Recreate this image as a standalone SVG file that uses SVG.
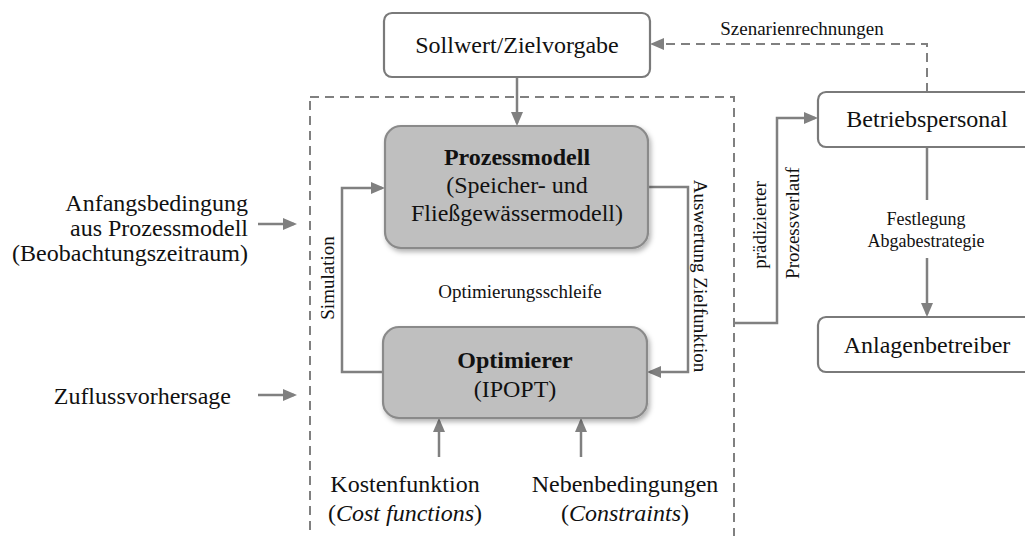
<svg xmlns="http://www.w3.org/2000/svg" width="1025" height="536" viewBox="0 0 1025 536" font-family="'Liberation Serif', 'Times New Roman', Tinos, 'DejaVu Serif', serif">
<defs>
<style>
text{font-family:"Liberation Serif","Times New Roman",Tinos,"DejaVu Serif",serif;fill:#111;}
.big{font-size:24px;text-anchor:middle;}
.mid{font-size:19px;text-anchor:middle;}
.sm{font-size:18px;text-anchor:middle;}
.b{font-weight:bold;}
.wbox{fill:#fff;stroke:#7a7a7a;stroke-width:2.2;}
.gbox{fill:#bfbfbf;stroke:#8a8a8a;stroke-width:2.2;}
.ln{fill:none;stroke:#808080;stroke-width:2.5;}
.dash{fill:none;stroke:#808080;stroke-width:2;stroke-dasharray:9 6;}
</style>
<marker id="ah" viewBox="0 0 14 12" refX="11" refY="6" markerWidth="14" markerHeight="12" markerUnits="userSpaceOnUse" orient="auto">
<path d="M0,0 L14,6 L0,12 z" fill="#808080"/>
</marker>
<filter id="sh" x="-10%" y="-10%" width="125%" height="130%">
<feDropShadow dx="2" dy="3" stdDeviation="2.5" flood-color="#000" flood-opacity="0.3"/>
</filter>
</defs>

<g id="optimization-loop">
<rect class="dash" x="310" y="97" width="424" height="460"/>
</g>

<g id="connectors">
<path class="ln" d="M517,77 L517,123" marker-end="url(#ah)"/>
<path class="dash" d="M927,92 L927,44 L653,44" marker-end="url(#ah)"/>
<path class="ln" d="M383,372 L342,372 L342,188 L382,188" marker-end="url(#ah)"/>
<path class="ln" d="M648,187 L688,187 L688,372 L650,372" marker-end="url(#ah)"/>
<path class="ln" d="M439,457 L439,421" marker-end="url(#ah)"/>
<path class="ln" d="M581,457 L581,421" marker-end="url(#ah)"/>
<path class="ln" d="M258,224 L294,224" marker-end="url(#ah)"/>
<path class="ln" d="M258,395 L294,395" marker-end="url(#ah)"/>
<path class="ln" d="M733,323 L777,323 L777,118 L815,118" marker-end="url(#ah)"/>
<path class="ln" d="M927,147 L927,200"/>
<path class="ln" d="M927,258 L927,314" marker-end="url(#ah)"/>
</g>

<g id="sollwert">
<rect class="wbox" x="384" y="13" width="266" height="64" rx="8"/>
<text class="big" x="517" y="53">Sollwert/Zielvorgabe</text>
</g>

<g id="prozessmodell">
<rect class="gbox" x="385" y="126" width="263" height="122" rx="16" filter="url(#sh)"/>
<text class="big b" x="517" y="165">Prozessmodell</text>
<text class="big" x="517" y="193">(Speicher- und</text>
<text class="big" x="517" y="221">Fließgewässermodell)</text>
</g>

<g id="optimierer">
<rect class="gbox" x="383" y="327" width="264" height="91" rx="16" filter="url(#sh)"/>
<text class="big b" x="515" y="368">Optimierer</text>
<text class="big" x="515" y="397">(IPOPT)</text>
</g>

<g id="betriebspersonal">
<rect class="wbox" x="818" y="92" width="218" height="55" rx="8"/>
<text class="big" x="927" y="127">Betriebspersonal</text>
</g>

<g id="anlagenbetreiber">
<rect class="wbox" x="818" y="317" width="218" height="55" rx="8"/>
<text class="big" x="927" y="353">Anlagenbetreiber</text>
</g>

<g id="anfangsbedingung">
<text class="big" style="text-anchor:end" x="248" y="211">Anfangsbedingung</text>
<text class="big" style="text-anchor:end" x="248" y="236">aus Prozessmodell</text>
<text class="big" style="text-anchor:end" x="248" y="261">(Beobachtungszeitraum)</text>
</g>

<g id="zuflussvorhersage">
<text class="big" style="text-anchor:end" x="231" y="404">Zuflussvorhersage</text>
</g>

<g id="kostenfunktion">
<text class="big" x="405" y="492">Kostenfunktion</text>
<text class="big" x="405" y="521">(<tspan font-style="italic">Cost functions</tspan>)</text>
</g>

<g id="nebenbedingungen">
<text class="big" x="625" y="492">Nebenbedingungen</text>
<text class="big" x="625" y="521">(<tspan font-style="italic">Constraints</tspan>)</text>
</g>

<g id="labels">
<text class="mid" x="802" y="35">Szenarienrechnungen</text>
<text class="mid" x="520" y="298">Optimierungsschleife</text>
<text class="mid" transform="translate(334,278) rotate(-90)">Simulation</text>
<text class="mid" transform="translate(694,276) rotate(90)">Auswertung Zielfunktion</text>
<text class="mid" transform="translate(766,225) rotate(-90)">prädizierter</text>
<text class="mid" transform="translate(799,223) rotate(-90)">Prozessverlauf</text>
<text class="sm" x="926" y="225">Festlegung</text>
<text class="sm" x="926" y="247">Abgabestrategie</text>
</g>
</svg>
